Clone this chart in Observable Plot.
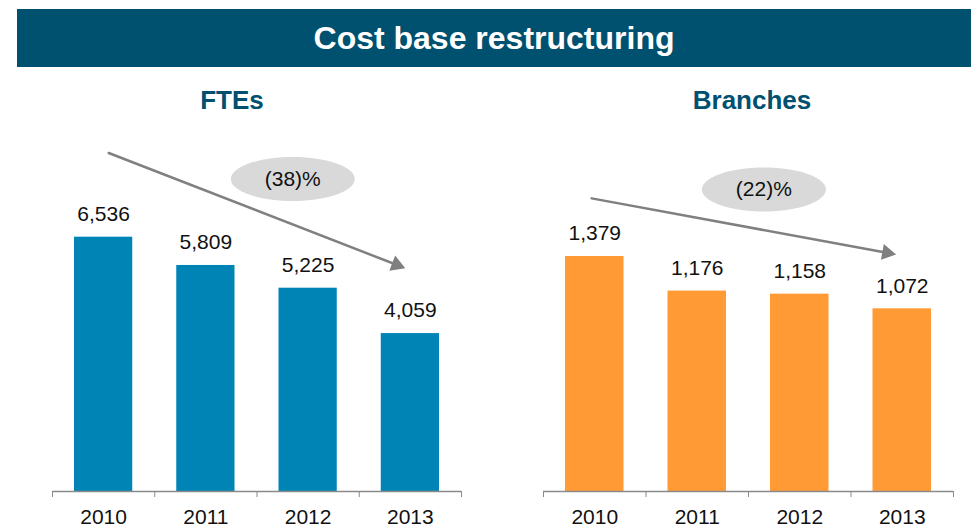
<!DOCTYPE html>
<html>
<head>
<meta charset="utf-8">
<script src="https://cdn.jsdelivr.net/npm/d3@7"></script>
<script src="https://cdn.jsdelivr.net/npm/@observablehq/plot@0.6"></script>
<style>
  body { margin: 0; background: #fff; font-family: "Liberation Sans", Arial, sans-serif; }
  #page { position: relative; width: 971px; height: 527px; overflow: hidden; }
  #banner { position: absolute; left: 17px; top: 9px; width: 954px; height: 58px; background: #00506F;
            color: #fff; font-weight: bold; font-size: 32px; line-height: 58px; text-align: center; }
  .head { position: absolute; top: 85px; width: 300px; height: 30px; line-height: 30px; text-align: center;
          font-weight: bold; font-size: 26px; color: #00506F; }
  .panel { position: absolute; top: 120px; }
</style>
</head>
<body>
<div id="page">
  <div id="banner">Cost base restructuring</div>
  <div class="head" style="left:82px">FTEs</div>
  <div class="head" style="left:602px">Branches</div>
  <div class="panel" id="left" style="left:0px"></div>
  <div class="panel" id="right" style="left:485px"></div>
</div>
<script>
const years = ["2010", "2011", "2012", "2013"];
const ftes = [6536, 5809, 5225, 4059];
const branches = [1379, 1176, 1158, 1072];
const ftesChange = "(38)%";
const branchesChange = "(22)%";

// annotation anchors in data space (x = category index position, y = value)
const ftesNote = {x1: 0.55, y1: 8700, x2: 3.45, y2: 5740, cx: 2.35, cy: 8030, label: ftesChange};
const branchesNote = {x1: 0.47, y1: 1720, x2: 3.44, y2: 1391, cx: 2.15, cy: 1772, label: branchesChange};

const ellipse = {
  draw(ctx) {
    const rx = 62, ry = 22, k = 0.5523;
    ctx.moveTo(rx, 0);
    ctx.bezierCurveTo(rx, ry * k, rx * k, ry, 0, ry);
    ctx.bezierCurveTo(-rx * k, ry, -rx, ry * k, -rx, 0);
    ctx.bezierCurveTo(-rx, -ry * k, -rx * k, -ry, 0, -ry);
    ctx.bezierCurveTo(rx * k, -ry, rx, -ry * k, rx, 0);
    ctx.closePath();
  }
};

function panel({values, fill, yMax, width, marginLeft, marginRight, note}) {
  const height = 407, marginBottom = 36, marginTop = 0;
  const data = years.map((year, i) => ({year, i, value: values[i]}));
  const plotH = height - marginBottom - marginTop;
  const plotW = width - marginLeft - marginRight;
  const px = (x) => marginLeft + (x / years.length) * plotW;
  const py = (y) => marginTop + plotH - (y / yMax) * plotH;
  const theta = Math.atan2(py(note.y2) - py(note.y1), px(note.x2) - px(note.x1));
  const off = 9.3;
  return Plot.plot({
    width, height, marginLeft, marginRight, marginTop, marginBottom,
    style: {fontFamily: '"Liberation Sans", Arial, sans-serif', color: "#8a8a8a", background: "transparent"},
    x: {domain: [0, years.length], ticks: years.length, tickFormat: () => "", tickSize: 6, label: null},
    y: {domain: [0, yMax], axis: null},
    marks: [
      Plot.rectY(data, {x1: "i", x2: d => d.i + 1, y: "value", fill, insetLeft: 22, insetRight: 22}),
      Plot.ruleY([0], {stroke: "#8a8a8a", strokeWidth: 1.5}),
      Plot.text(data, {x: d => d.i + 0.5, y: "value", text: d => d3.format(",")(d.value), dy: -23,
                       fontSize: 21, fill: "#111"}),
      Plot.text(data, {x: d => d.i + 0.5, y: 0, text: "year", dy: 26, fontSize: 21, fill: "#111"}),
      Plot.arrow([note], {x1: "x1", y1: "y1", x2: "x2", y2: "y2", stroke: "#808080", strokeWidth: 2.5,
                          headLength: 0, insetEnd: 8}),
      Plot.dot([note], {x: "x2", y: "y2", symbol: "triangle", r: 6, fill: "#808080", stroke: null,
                        rotate: theta * 180 / Math.PI + 90,
                        dx: -off * Math.cos(theta), dy: -off * Math.sin(theta)}),
      Plot.dot([note], {x: "cx", y: "cy", symbol: ellipse, fill: "#d9d9d9", stroke: null}),
      Plot.text([note], {x: "cx", y: "cy", text: "label", fontSize: 21, fill: "#111"})
    ]
  });
}

document.getElementById("left").append(panel({
  values: ftes, fill: "#0084B6", yMax: 9535, width: 485, marginLeft: 52, marginRight: 24, note: ftesNote
}));
document.getElementById("right").append(panel({
  values: branches, fill: "#FF9A35", yMax: 2177, width: 486, marginLeft: 58, marginRight: 18, note: branchesNote
}));
</script>
</body>
</html>
